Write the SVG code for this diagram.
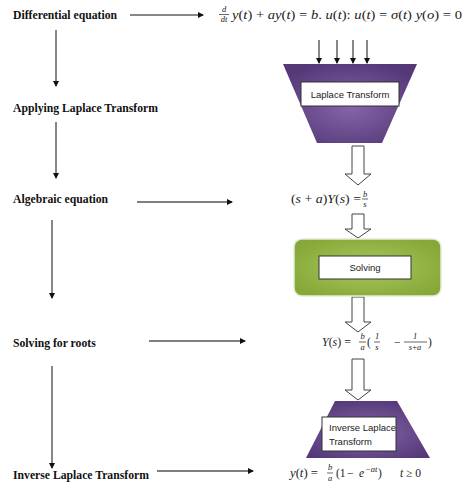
<svg xmlns="http://www.w3.org/2000/svg" width="474" height="500" viewBox="0 0 474 500">
<style>
.lbl{font-family:"Liberation Serif","Times New Roman",serif;font-weight:bold;font-size:11.7px;fill:#111}
.m{font-family:"Liberation Serif","DejaVu Serif",serif;font-size:11.5px;fill:#222}
.mi{font-style:italic}
.sm{font-family:"Liberation Serif","DejaVu Serif",serif;font-size:8.5px;fill:#222;font-style:italic}
.box{fill:#fff;stroke:#333;stroke-width:1}
.bt{font-family:"Liberation Sans",Arial,sans-serif;font-size:9.5px;fill:#222}
.ln{stroke:#111;stroke-width:1;fill:none}
.hl{stroke:#555;stroke-width:1.5;fill:none}
.blk{fill:#fff;stroke:#444;stroke-width:1}
.fr{stroke:#222;stroke-width:0.7}
</style>
<defs>
<marker id="ah" markerWidth="6" markerHeight="6" refX="5" refY="3" orient="auto" markerUnits="userSpaceOnUse">
<path d="M0,0 L6,3 L0,6 Z" fill="#111"/>
</marker>
<radialGradient id="pg" cx="50%" cy="55%" r="60%">
<stop offset="0" stop-color="#8466a8"/>
<stop offset="1" stop-color="#553878"/>
</radialGradient>
<radialGradient id="gg" cx="50%" cy="50%" r="60%">
<stop offset="0" stop-color="#a8c75c"/>
<stop offset="1" stop-color="#86a838"/>
</radialGradient>
</defs>

<g id="connectors">
<line class="ln" x1="130" y1="15" x2="203" y2="15" marker-end="url(#ah)"/>
<line class="ln" x1="56" y1="30" x2="56" y2="86" marker-end="url(#ah)"/>
<line class="ln" x1="56" y1="122" x2="56" y2="178" marker-end="url(#ah)"/>
<line class="hl" x1="137" y1="202" x2="232" y2="202" marker-end="url(#ah)"/>
<line class="ln" x1="52" y1="220" x2="52" y2="298" marker-end="url(#ah)"/>
<line class="hl" x1="149" y1="341" x2="245" y2="341" marker-end="url(#ah)"/>
<line class="ln" x1="52" y1="366" x2="52" y2="468" marker-end="url(#ah)"/>
<line class="hl" x1="157" y1="471" x2="253" y2="471" marker-end="url(#ah)"/>
<line class="ln" x1="319" y1="40" x2="319" y2="63" marker-end="url(#ah)"/>
<line class="ln" x1="337" y1="40" x2="337" y2="63" marker-end="url(#ah)"/>
<line class="ln" x1="353" y1="40" x2="353" y2="63" marker-end="url(#ah)"/>
<line class="ln" x1="367" y1="40" x2="367" y2="63" marker-end="url(#ah)"/>
<path class="blk" d="M352,146 H364 V174 H371 L358,185 L345,174 H352 Z"/>
<path class="blk" d="M352,214 H364 V229 H371 L358,238 L345,229 H352 Z"/>
<path class="blk" d="M352,297 H364 V322 H371 L358,332 L345,322 H352 Z"/>
<path class="blk" d="M352,359 H364 V390 H371 L358,400 L345,390 H352 Z"/>
</g>

<g id="lbl-diff"><text class="lbl" x="13" y="19">Differential equation</text></g>
<g id="lbl-apply"><text class="lbl" x="13" y="112">Applying Laplace Transform</text></g>
<g id="lbl-alg"><text class="lbl" x="13" y="203">Algebraic equation</text></g>
<g id="lbl-solve"><text class="lbl" x="13" y="347">Solving for roots</text></g>
<g id="lbl-inv"><text class="lbl" x="13" y="479">Inverse Laplace Transform</text></g>

<g id="eq1">
<text class="sm" x="224" y="12" text-anchor="middle">d</text>
<line class="fr" x1="219" y1="14.5" x2="229" y2="14.5"/>
<text class="sm" x="224" y="22" text-anchor="middle">dt</text>
<text class="m" x="232" y="19" textLength="230" lengthAdjust="spacingAndGlyphs"><tspan class="mi">y</tspan>(<tspan class="mi">t</tspan>) + <tspan class="mi">ay</tspan>(<tspan class="mi">t</tspan>) = <tspan class="mi">b</tspan>. <tspan class="mi">u</tspan>(<tspan class="mi">t</tspan>):  <tspan class="mi">u</tspan>(<tspan class="mi">t</tspan>) = <tspan class="mi">σ</tspan>(<tspan class="mi">t</tspan>)   <tspan class="mi">y</tspan>(<tspan class="mi">o</tspan>) = 0</text>
</g>

<g id="laplace">
<polygon points="283,64 417,64 382,143 317,143" fill="url(#pg)"/>
<rect class="box" x="301" y="82" width="98" height="24"/>
<text class="bt" x="350" y="97.5" text-anchor="middle">Laplace Transform</text>
</g>

<g id="eq2">
<text class="m" x="291" y="203" textLength="70" lengthAdjust="spacingAndGlyphs">(<tspan class="mi">s</tspan> + <tspan class="mi">a</tspan>)<tspan class="mi">Y</tspan>(<tspan class="mi">s</tspan>) =</text>
<text class="sm" x="365" y="197" text-anchor="middle">b</text>
<line class="fr" x1="362" y1="199" x2="368" y2="199"/>
<text class="sm" x="365" y="207" text-anchor="middle">s</text>
</g>

<g id="solving">
<rect x="294" y="239" width="147" height="57" rx="8" fill="url(#gg)" stroke="#e4edd4" stroke-width="1.5"/>
<rect class="box" x="319" y="256" width="92" height="23"/>
<text class="bt" x="365" y="271" text-anchor="middle">Solving</text>
</g>

<g id="eq3">
<text class="m" x="322" y="346" textLength="29" lengthAdjust="spacingAndGlyphs"><tspan class="mi">Y</tspan>(<tspan class="mi">s</tspan>) =</text>
<text class="sm" x="362.5" y="339" text-anchor="middle">b</text>
<line class="fr" x1="359" y1="342" x2="366" y2="342"/>
<text class="sm" x="362.5" y="350" text-anchor="middle">a</text>
<text class="m" x="367" y="346">(</text>
<text class="sm" x="377" y="339" text-anchor="middle" font-style="normal">1</text>
<line class="fr" x1="374" y1="342" x2="380" y2="342"/>
<text class="sm" x="377" y="350" text-anchor="middle">s</text>
<text class="m" x="394" y="346">−</text>
<text class="sm" x="415" y="339" text-anchor="middle" font-style="normal">1</text>
<line class="fr" x1="404" y1="342" x2="427" y2="342"/>
<text class="sm" x="415" y="350" text-anchor="middle"><tspan>s</tspan><tspan font-style="normal">+</tspan><tspan>a</tspan></text>
<text class="m" x="428" y="346">)</text>
</g>

<g id="inverse">
<polygon points="335,401 397,401 430,458 306,458" fill="url(#pg)"/>
<rect class="box" x="322" y="417" width="74" height="34"/>
<text class="bt" x="329" y="431" font-size="9">Inverse Laplace</text>
<text class="bt" x="329" y="445" font-size="9">Transform</text>
</g>

<g id="eq5">
<text class="m" x="290" y="477" textLength="28" lengthAdjust="spacingAndGlyphs"><tspan class="mi">y</tspan>(<tspan class="mi">t</tspan>) =</text>
<text class="sm" x="330" y="470" text-anchor="middle">b</text>
<line class="fr" x1="327" y1="473" x2="333" y2="473"/>
<text class="sm" x="330" y="481" text-anchor="middle">a</text>
<text class="m" x="336" y="477">(1</text>
<text class="m" x="347" y="477">−</text>
<text class="m mi" x="359" y="477">e</text>
<text class="sm" x="365" y="472" font-size="7.5">−<tspan>at</tspan></text>
<text class="m" x="378" y="477">)</text>
<text class="m" x="400" y="477"><tspan class="mi">t</tspan> ≥ 0</text>
</g>
</svg>
